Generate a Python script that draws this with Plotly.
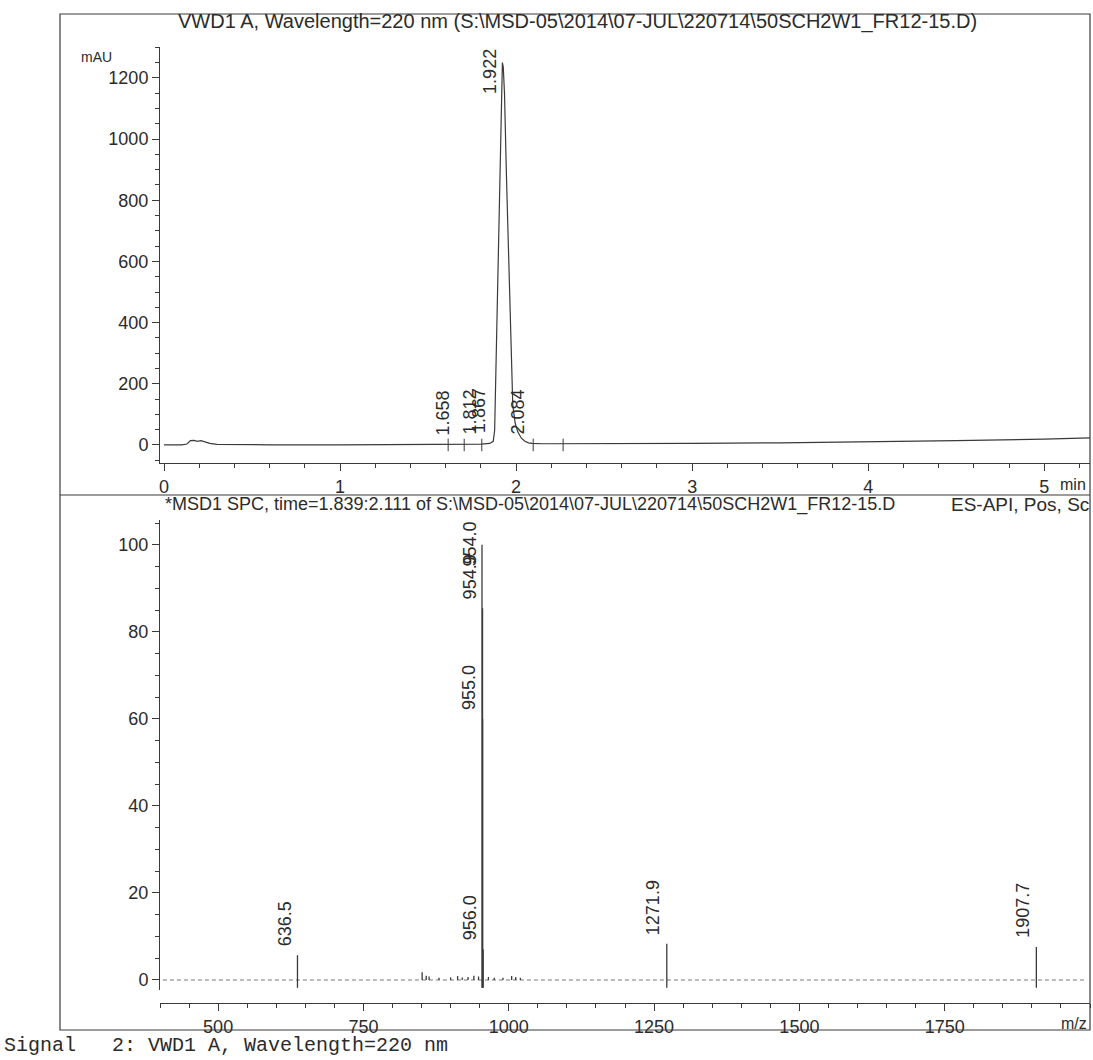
import plotly.graph_objects as go

# ---------------- data ----------------
# Chromatogram (VWD1 A, 220 nm): retention time (min) vs absorbance (mAU)
chrom_time = [0.00, 0.10, 0.13, 0.15, 0.17, 0.19, 0.21, 0.23, 0.26, 0.30, 0.40, 0.60,
              1.00, 1.40, 1.60, 1.70, 1.80, 1.85, 1.87, 1.878, 1.885, 1.892, 1.899,
              1.906, 1.913, 1.918, 1.922, 1.927, 1.934, 1.945, 1.957, 1.969, 1.981,
              1.995, 2.010, 2.030, 2.050, 2.070, 2.090, 2.15, 2.30, 2.60, 3.00, 3.50,
              4.00, 4.50, 5.00, 5.26]
chrom_mau = [0, 0, 3, 14, 15, 12, 14, 11, 5, 2, 1, 0.5,
             0.5, 1, 2, 2.5, 3, 5, 12, 48, 240, 432, 624,
             816, 1008, 1160, 1250, 1235, 1150, 880, 600, 330, 130,
             70, 42, 22, 12, 7, 5, 4, 4, 4.5, 5, 7,
             10, 14, 19, 23]

# Labelled peaks (retention time, height at label)
peak_rt = [1.658, 1.812, 1.867, 1.922, 2.084]
peak_height = [3, 3, 10, 1250, 6]
peak_text = ["1.658", "1.812", "1.867", "1.922", "2.084"]

# Integration event marks on the baseline
event_time = [1.614, 1.705, 1.805, 2.097, 2.267]
event_mau = [0, 0, 0, 0, 0]

# Mass spectrum (MSD1 SPC): m/z vs relative abundance (%)
ms_mz = [636.5, 851, 858, 863, 880, 900, 912, 920, 930, 940, 948,
         954.0, 954.9, 955.0, 956.0, 965, 975, 990, 1005, 1012, 1020,
         1271.9, 1907.7]
ms_abund = [5.7, 1.8, 1.0, 0.8, 0.5, 0.6, 0.9, 0.6, 0.7, 1.0, 0.8,
            100, 85.4, 60, 7, 0.7, 0.5, 0.5, 0.9, 0.7, 0.5,
            8.3, 7.6]
ms_label_mz = [636.5, 954.0, 954.9, 955.0, 956.0, 1271.9, 1907.7]
ms_label_abund = [5.7, 100, 85.4, 60, 7, 8.3, 7.6]
ms_label_text = ["636.5", "954.0", "954.9", "955.0", "956.0", "1271.9", "1907.7"]

top_xticks = [0, 1, 2, 3, 4, 5]
top_yticks = [0, 200, 400, 600, 800, 1000, 1200]
bot_xticks = [500, 750, 1000, 1250, 1500, 1750]
bot_yticks = [0, 20, 40, 60, 80, 100]

# ---------------- layout helpers ----------------
W, H = 1093, 1060
def px(x):
    return x / W
def py(y):
    return 1 - y / H

INK = "#2b2b2b"
LINE = "#3a3a3a"
SANS = "Liberation Sans, Arial, sans-serif"
MONO = "Liberation Mono, Courier New, monospace"

top_range = [-59, 1301]
bot_range = [-2.3, 105.7]
top_dom = [py(463), py(47)]
bot_dom = [py(990), py(520)]

fig = go.Figure()

# chromatogram
fig.add_trace(go.Scatter(x=chrom_time, y=chrom_mau, mode="lines",
                         line=dict(color=LINE, width=1.2),
                         xaxis="x", yaxis="y", hoverinfo="skip"))
# integration marks
fig.add_trace(go.Scatter(x=event_time, y=event_mau, mode="markers",
                         marker=dict(symbol="line-ns", size=9,
                                     line=dict(color=LINE, width=1)),
                         xaxis="x", yaxis="y", hoverinfo="skip"))

# spectrum noise floor
fig.add_shape(type="line", xref="x2", yref="y2", x0=405, x1=1995, y0=0, y1=0,
              line=dict(color="#777777", width=1, dash="4px,3px"), layer="below")

# spectrum sticks
sx, sy = [], []
for m, a in zip(ms_mz, ms_abund):
    base = -1.8 if a > 3 else 0
    sx += [m, m, None]
    sy += [base, a, None]
fig.add_trace(go.Scatter(x=sx, y=sy, mode="lines",
                         line=dict(color=LINE, width=1.3),
                         xaxis="x2", yaxis="y2", hoverinfo="skip"))

# ---------------- peak labels ----------------
LABEL_FS = 18
CHAR_PX = LABEL_FS * 0.52
GAP = 7

def add_labels(xs, ys, texts, xref, yref, rng, dom):
    dom_px = (dom[1] - dom[0]) * H
    per_unit = dom_px / (rng[1] - rng[0])
    for x, y, t in zip(xs, ys, texts):
        lab_len = len(t) * CHAR_PX
        top_px_needed = (y - rng[0]) * per_unit + GAP + lab_len
        if top_px_needed > dom_px:
            fig.add_annotation(x=x, y=rng[1], xref=xref, yref=yref, text=t,
                               textangle=-90, showarrow=False,
                               xanchor="right", yanchor="top", xshift=-1,
                               font=dict(family=SANS, size=LABEL_FS, color=INK))
        else:
            fig.add_annotation(x=x, y=y, xref=xref, yref=yref, text=t,
                               textangle=-90, showarrow=False,
                               xanchor="right", yanchor="bottom", yshift=GAP,
                               xshift=-1,
                               font=dict(family=SANS, size=LABEL_FS, color=INK))

add_labels(peak_rt, peak_height, peak_text, "x", "y", top_range, top_dom)
add_labels(ms_label_mz, ms_label_abund, ms_label_text, "x2", "y2", bot_range, bot_dom)

# ---------------- axes ----------------
tick_font = dict(family=SANS, size=18, color=INK)
common = dict(showgrid=False, zeroline=False, showline=True, linecolor=LINE,
              linewidth=1, ticks="outside", ticklen=7, tickwidth=1,
              tickcolor=LINE, tickfont=tick_font)

fig.update_layout(
    width=W, height=H,
    margin=dict(l=0, r=0, t=0, b=0),
    paper_bgcolor="white", plot_bgcolor="rgba(0,0,0,0)",
    showlegend=False,
    xaxis=dict(domain=[px(160), px(1090)], anchor="y", range=[-0.023, 5.26],
               tickvals=top_xticks,
               minor=dict(dtick=0.2, tick0=0, ticks="outside", ticklen=4,
                          tickcolor=LINE),
               **common),
    yaxis=dict(domain=top_dom, anchor="x", range=top_range,
               tickvals=top_yticks,
               minor=dict(dtick=50, tick0=0, ticks="outside", ticklen=4,
                          tickcolor=LINE),
               **common),
    xaxis2=dict(domain=[px(160), px(1090)], anchor="free", position=py(1003),
                range=[400, 2000], tickvals=bot_xticks,
                minor=dict(dtick=50, tick0=0, ticks="outside", ticklen=4,
                           tickcolor=LINE),
                **common),
    yaxis2=dict(domain=bot_dom, anchor="x2", range=bot_range,
                tickvals=bot_yticks,
                minor=dict(dtick=5, tick0=0, ticks="outside", ticklen=4,
                           tickcolor=LINE),
                **common),
)

# ---------------- frame lines ----------------
frame = dict(color=LINE, width=1.2)
fig.add_shape(type="rect", xref="paper", yref="paper",
              x0=px(60), x1=px(1090), y0=py(1030), y1=py(14), line=frame)
fig.add_shape(type="line", xref="paper", yref="paper",
              x0=px(60), x1=px(1090), y0=py(495), y1=py(495), line=frame)

# ---------------- texts ----------------
fig.add_annotation(xref="paper", yref="paper", x=px(176), y=py(21),
                   xanchor="left", yanchor="middle", showarrow=False,
                   text="VWD1 A, Wavelength=220 nm (S:\\MSD-05\\2014\\07-JUL\\220714\\50SCH2W1_FR12-15.D)",
                   font=dict(family=SANS, size=20, color=INK))
fig.add_annotation(xref="paper", yref="paper", x=px(79), y=py(57),
                   xanchor="left", yanchor="middle", showarrow=False,
                   text="mAU", font=dict(family=SANS, size=14, color=INK))
fig.add_annotation(xref="paper", yref="paper", x=px(1088), y=py(484),
                   xanchor="right", yanchor="middle", showarrow=False,
                   text="min", font=dict(family=SANS, size=16, color=INK))
fig.add_annotation(xref="paper", yref="paper", x=px(163), y=py(505),
                   xanchor="left", yanchor="middle", showarrow=False,
                   text="*MSD1 SPC, time=1.839:2.111 of S:\\MSD-05\\2014\\07-JUL\\220714\\50SCH2W1_FR12-15.D",
                   font=dict(family=SANS, size=18, color=INK))
fig.add_annotation(xref="paper", yref="paper", x=px(949), y=py(505),
                   xanchor="left", yanchor="middle", showarrow=False,
                   text="ES-API, Pos, Sc",
                   font=dict(family=SANS, size=19, color=INK))
fig.add_annotation(xref="paper", yref="paper", x=px(1089), y=py(1023),
                   xanchor="right", yanchor="middle", showarrow=False,
                   text="m/z", font=dict(family=SANS, size=16, color=INK))
fig.add_annotation(xref="paper", yref="paper", x=px(2), y=py(1045),
                   xanchor="left", yanchor="middle", showarrow=False,
                   text="Signal&nbsp;&nbsp;&nbsp;2: VWD1 A, Wavelength=220 nm",
                   font=dict(family=MONO, size=20, color=INK))

fig.write_html(
    "out.html",
    config={"displayModeBar": False},
    post_script="document.body.style.margin='0';"
                "document.body.style.overflow='hidden';"
                "document.documentElement.style.overflow='hidden';",
)
